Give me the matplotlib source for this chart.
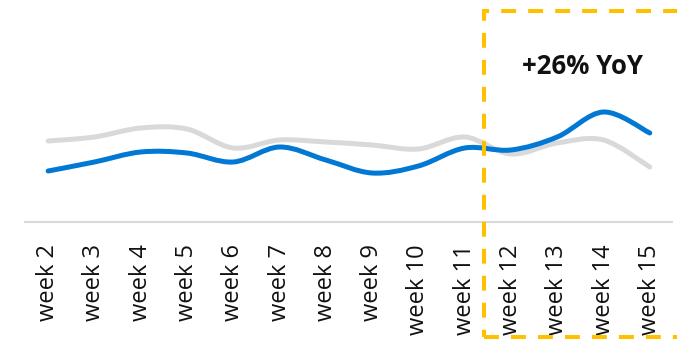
import numpy as np
import matplotlib.pyplot as plt
from matplotlib.path import Path
from matplotlib.patches import PathPatch, Rectangle

plt.rcParams['font.family'] = ['Open Sans', 'DejaVu Sans']

weeks = ['week 2', 'week 3', 'week 4', 'week 5', 'week 6', 'week 7', 'week 8',
         'week 9', 'week 10', 'week 11', 'week 12', 'week 13', 'week 14', 'week 15']
this_year = [51, 60, 70, 69, 60, 75, 62, 49, 56, 74, 72, 85, 110, 89]
last_year = [81, 85, 94, 93, 74, 82, 80, 77, 73, 85, 68, 79, 82, 55]
highlight_from = 'week 12'
label = '+26% YoY'

BLUE = '#0078d4'
GREY = '#d9d9d9'
YELLOW = '#ffc000'


def smooth_path(x, y, tension=0.5):
    # Catmull-Rom segments turned into cubic bezier pieces
    x = np.asarray(x, float)
    y = np.asarray(y, float)
    pts = np.column_stack([x, y])
    verts = [pts[0]]
    codes = [Path.MOVETO]
    n = len(pts)
    for i in range(n - 1):
        p0 = pts[max(i - 1, 0)]
        p1 = pts[i]
        p2 = pts[i + 1]
        p3 = pts[min(i + 2, n - 1)]
        c1 = p1 + (p2 - p0) * tension / 3
        c2 = p2 - (p3 - p1) * tension / 3
        verts += [c1, c2, p2]
        codes += [Path.CURVE4] * 3
    return Path(verts, codes)


fig = plt.figure(figsize=(6.77, 3.4), dpi=100)
ax = fig.add_axes([25 / 677, 118 / 340, 647 / 677, 222 / 340])

x = np.arange(len(weeks))
ax.add_patch(PathPatch(smooth_path(x, last_year), fill=False, edgecolor=GREY,
                       lw=3.6, capstyle='round', zorder=2))
ax.add_patch(PathPatch(smooth_path(x, this_year), fill=False, edgecolor=BLUE,
                       lw=3.6, capstyle='round', zorder=3))

ax.set_xlim(-0.5, 13.48)
ax.set_ylim(0, 222)

for s in ['top', 'right', 'left']:
    ax.spines[s].set_visible(False)
ax.spines['bottom'].set_color(GREY)
ax.spines['bottom'].set_linewidth(1.5)
ax.set_yticks([])
ax.set_xticks(x)
ax.set_xticklabels(weeks, rotation=90, fontsize=17, color='#111111')
ax.tick_params(axis='x', length=0, pad=16)

# highlighted period
x0 = weeks.index(highlight_from) - 0.58
box = Rectangle((x0, -115), 20, 326, fill=False, edgecolor=YELLOW, lw=2.9,
                linestyle=(0, (3.7, 3.0)), clip_on=False, zorder=4)
ax.add_patch(box)
ax.text(11.55, 148, label, fontsize=18.5, fontweight='bold', ha='center',
        va='baseline', color='#111111')

fig.savefig('out.png', dpi=100)
